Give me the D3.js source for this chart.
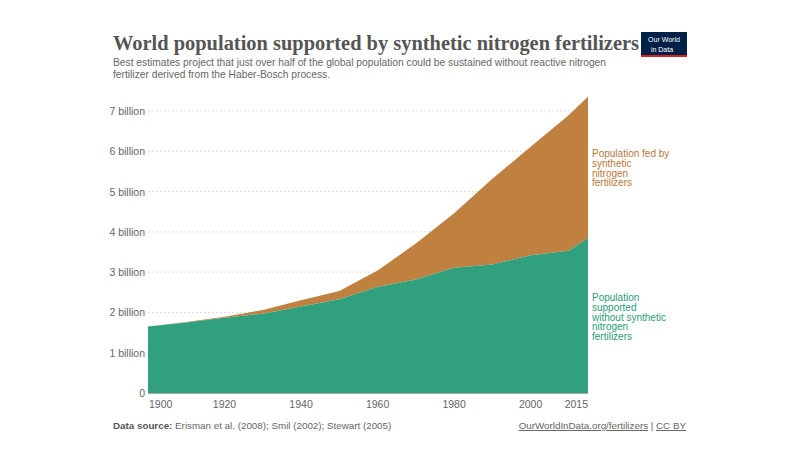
<!DOCTYPE html>
<html><head><meta charset="utf-8">
<script src="https://cdn.jsdelivr.net/npm/d3@7"></script>
<style>
body{margin:0;background:#fff;}
svg{display:block;}
</style></head>
<body>
<svg id="c" width="800" height="463"></svg>
<script>
const years = [1900,1910,1920,1930,1940,1950,1960,1970,1980,1990,2000,2010,2015];
const withoutSynthetic = [1.65,1.75,1.87,1.97,2.15,2.33,2.63,2.82,3.11,3.19,3.42,3.53,3.85];
const totalPopulation = [1.65,1.76,1.89,2.06,2.30,2.53,3.04,3.71,4.46,5.32,6.11,6.90,7.36];
const yTicks = [0,1,2,3,4,5,6,7];
const xTicks = [1900,1920,1940,1960,1980,2000,2015];

const svg = d3.select("#c");
const L=148, R=588, T=111, B=393;
const x = d3.scaleLinear().domain([1900,2015]).range([L,R]);
const y = d3.scaleLinear().domain([0,7]).range([B,T]);
const SANS = "Liberation Sans, Arial, sans-serif";

// title
svg.append("text").attr("x",113).attr("y",50)
  .attr("font-family","'Liberation Serif', 'Times New Roman', serif").attr("font-weight","bold")
  .attr("font-size",20).attr("fill","#555")
  .attr("textLength",526).attr("lengthAdjust","spacingAndGlyphs")
  .text("World population supported by synthetic nitrogen fertilizers");
const sub = [["Best estimates project that just over half of the global population could be sustained without reactive nitrogen",493],["fertilizer derived from the Haber-Bosch process.",217]];
sub.forEach((s,i)=>svg.append("text").attr("x",113).attr("y",66+i*12)
  .attr("font-family",SANS).attr("font-size",10.8).attr("fill","#666")
  .attr("textLength",s[1]).attr("lengthAdjust","spacingAndGlyphs").text(s[0]));

// logo
const lg = svg.append("g");
lg.append("rect").attr("x",641).attr("y",32).attr("width",46).attr("height",25).attr("fill","#002147");
lg.append("rect").attr("x",641).attr("y",55).attr("width",46).attr("height",2).attr("fill","#ce261e");
const lt = lg.append("text").attr("font-family",SANS).attr("font-size",7).attr("fill","#fff").attr("text-anchor","middle");
lt.append("tspan").attr("x",664).attr("y",42).text("Our World");
lt.append("tspan").attr("x",662).attr("y",51.5).text("in Data");

// grid
yTicks.forEach(t=>{
  if(t>0) svg.append("line").attr("x1",L).attr("x2",R).attr("y1",y(t)).attr("y2",y(t))
    .attr("stroke","#ddd").attr("stroke-dasharray","2,2").attr("stroke-width",1);
  svg.append("text").attr("x",145).attr("y",y(t)+4).attr("text-anchor","end")
    .attr("font-family",SANS).attr("font-size",10.5).attr("fill","#666")
    .text(t===0?"0":t+" billion");
});

const data = years.map((yr,i)=>({yr, g:withoutSynthetic[i], t:totalPopulation[i]}));
svg.append("path").datum(data).attr("fill","#c0803f")
  .attr("d", d3.area().x(d=>x(d.yr)).y0(d=>y(d.g)).y1(d=>y(d.t)));
svg.append("path").datum(data).attr("fill","#31a07f")
  .attr("d", d3.area().x(d=>x(d.yr)).y0(y(0)).y1(d=>y(d.g)));

svg.append("line").attr("x1",L).attr("x2",R).attr("y1",B+0.5).attr("y2",B+0.5).attr("stroke","#aaa");

xTicks.forEach(t=>{
  const anchor = t===1900?"start":(t===2015?"end":"middle");
  svg.append("text").attr("x",x(t)+(t===1900?1:0)).attr("y",408).attr("text-anchor",anchor)
    .attr("font-family",SANS).attr("font-size",10.5).attr("fill","#666").text(t);
});

// series labels
const lab1 = ["Population fed by","synthetic","nitrogen","fertilizers"];
lab1.forEach((s,i)=>svg.append("text").attr("x",592).attr("y",157+i*9.8)
  .attr("font-family",SANS).attr("font-size",10).attr("fill","#b8773a").text(s));
const lab2 = ["Population","supported","without synthetic","nitrogen","fertilizers"];
lab2.forEach((s,i)=>svg.append("text").attr("x",592).attr("y",301+i*9.8)
  .attr("font-family",SANS).attr("font-size",10).attr("fill","#2a9a7a").text(s));

// footer
const f = svg.append("text").attr("x",113).attr("y",429)
  .attr("font-family",SANS).attr("font-size",9.8).attr("fill","#666");
f.append("tspan").attr("font-weight","bold").attr("fill","#555").text("Data source: ");
f.append("tspan").text("Erisman et al. (2008); Smil (2002); Stewart (2005)");
const f2 = svg.append("text").attr("x",686).attr("y",429).attr("text-anchor","end")
  .attr("font-family",SANS).attr("font-size",9.8).attr("fill","#666");
f2.append("tspan").attr("text-decoration","underline").text("OurWorldInData.org/fertilizers");
f2.append("tspan").text(" | ");
f2.append("tspan").attr("text-decoration","underline").text("CC BY");
</script>
</body></html>
